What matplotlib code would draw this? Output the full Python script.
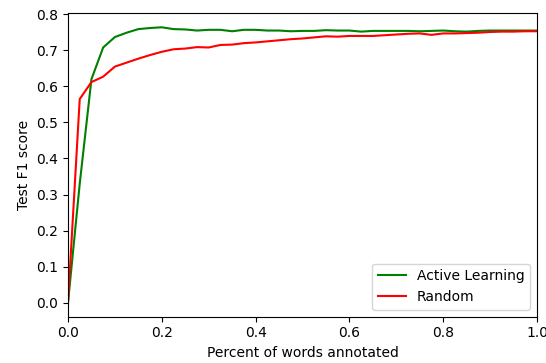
import matplotlib
matplotlib.use('Agg')
import matplotlib.pyplot as plt

percent = [0.0, 0.025, 0.05, 0.075, 0.1, 0.125, 0.15, 0.175, 0.2, 0.225,
           0.25, 0.275, 0.3, 0.325, 0.35, 0.375, 0.4, 0.425, 0.45, 0.475,
           0.5, 0.525, 0.55, 0.575, 0.6, 0.625, 0.65, 0.675, 0.7, 0.725,
           0.75, 0.775, 0.8, 0.825, 0.85, 0.875, 0.9, 0.925, 0.95, 0.975, 1.0]

active_f1 = [0.0, 0.33, 0.62, 0.708, 0.737, 0.749, 0.759, 0.762, 0.764, 0.759,
             0.758, 0.755, 0.757, 0.757, 0.753, 0.757, 0.757, 0.755, 0.755, 0.753,
             0.754, 0.754, 0.756, 0.755, 0.755, 0.752, 0.754, 0.754, 0.754, 0.754,
             0.753, 0.754, 0.755, 0.753, 0.752, 0.754, 0.755, 0.755, 0.755, 0.755, 0.755]

random_f1 = [0.0, 0.565, 0.612, 0.627, 0.655, 0.666, 0.677, 0.687, 0.696, 0.703,
             0.705, 0.709, 0.708, 0.715, 0.716, 0.720, 0.722, 0.725, 0.728, 0.731,
             0.733, 0.736, 0.739, 0.738, 0.740, 0.740, 0.740, 0.742, 0.744, 0.746,
             0.747, 0.743, 0.747, 0.747, 0.748, 0.749, 0.751, 0.752, 0.752, 0.753, 0.753]

fig = plt.figure(figsize=(5.46, 3.63), dpi=100)
ax = fig.add_axes([68/546, 46.3/363, 469/546, 304/363])

ax.plot(percent, active_f1, color='g', label='Active Learning')
ax.plot(percent, random_f1, color='r', label='Random')

ax.set_xlim(0, 1.0)
ax.set_ylim(-0.039, 0.8045)
ax.set_xlabel('Percent of words annotated')
ax.set_ylabel('Test F1 score')
ax.legend(loc='lower right')

fig.savefig('out.png', dpi=100)
